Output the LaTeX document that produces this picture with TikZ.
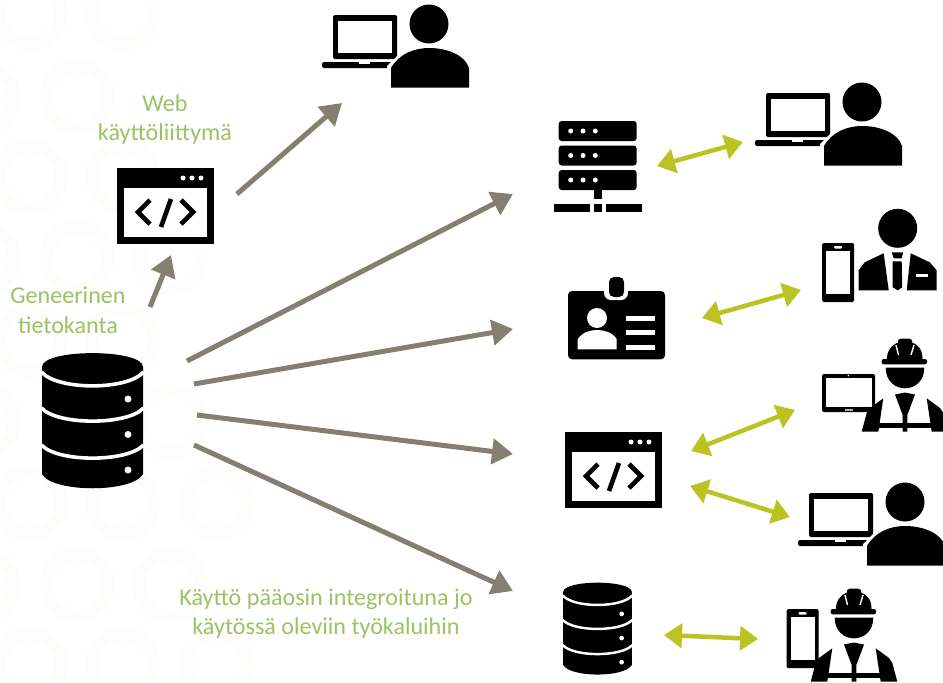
\documentclass[tikz,border=0pt]{standalone}
\usepackage{fontspec}
\setmainfont{Carlito}
\usetikzlibrary{arrows.meta}
\definecolor{lbl}{HTML}{9BC364}
\definecolor{gr}{HTML}{857F72}
\definecolor{ol}{HTML}{BBC323}
\definecolor{ringc}{HTML}{FCFCFA}
\definecolor{ringd}{HTML}{FDFDFC}
\tikzset{
  ringa/.style={draw=ringc,line width=12.5pt},
  ringb/.style={draw=ringd,line width=12.5pt},
  label text/.style={text=lbl,font=\fontsize{24.1}{29}\selectfont,align=center,inner sep=0pt,anchor=base},
  flow/.style={draw=gr,line width=5pt,-{Triangle[length=21pt,width=25pt]},shorten <=0pt},
  link/.style={draw=ol,line width=4.5pt,{Triangle[length=18pt,width=24pt]}-{Triangle[length=18pt,width=24pt]}},
  pics/laptopuser/.style={code={
    \fill[rounded corners=1.5pt] (-96,-9) rectangle (-32,35);
    \fill[white] (-91,-3) rectangle (-37,29);
    \fill[rounded corners=1.5pt] (-107,38) rectangle (-30,44);
    \fill[white] (-70,38) rectangle (-59,40);
    \fill (0,0) circle (19.5);
    \fill[white] (-42,64) -- (-42,42) -- (-30,30) -- (-28,64) -- cycle;
    \fill (-38,63.5) -- (-38,44) .. controls (-30,30) and (-15,24) .. (0,24) .. controls (18,24) and (36,31) .. (40,44) -- (40,63.5) -- cycle;
  }},
  pics/codewin/.style={code={
    \fill (-48.5,-38) rectangle (48.5,38);
    \fill[white] (-41.5,-18) rectangle (41.5,31);
    \foreach \dx in {17.5,26.5,35.5} \fill[white] (\dx,-28) circle (2.5);
    \draw[line width=4.6pt] (-15.5,-6) -- (-27.5,6) -- (-15.5,18);
    \draw[line width=4.6pt] (5.5,-7) -- (-4.5,21);
    \draw[line width=4.6pt] (15.5,-6) -- (27.5,6) -- (15.5,18);
  }},
  pics/database/.style={code={
    \fill (-50.5,-53.5) .. controls (-50.5,-72) and (50.5,-72) .. (50.5,-53.5)
      -- (50.5,53.5) .. controls (40,72.5) and (-40,72.5) .. (-50.5,53.5) -- cycle;
    \draw[white,line width=#1*3.6pt] (-51,-48.5) .. controls (-35,-30) and (35,-30) .. (51,-48.5);
    \draw[white,line width=#1*3.6pt] (-51,-12.5) .. controls (-35,5) and (35,5) .. (51,-12.5);
    \draw[white,line width=#1*3.6pt] (-51,24.5) .. controls (-35,42) and (35,42) .. (51,24.5);
    \fill[white] (35.5,-21.5) circle (3.5) (35.5,14) circle (3.5) (35.5,49.5) circle (3.5);
  }},
  pics/serverrack/.style={code={
    \foreach \yy in {121,145.5,170} {
      \fill[rounded corners=3pt] (558.7,\yy) rectangle (636.7,\yy+20);
      \foreach \xx in {570.7,583,595.3} \fill[white] (\xx,\yy+10) circle (2.5);
    }
    \fill (594,189) rectangle (602,199);
    \fill (554,204) rectangle (590,212);
    \fill (594,204) rectangle (602,212);
    \fill (606,204) rectangle (642,212);
  }},
  pics/idbadge/.style={code={
    \fill[rounded corners=4pt] (568,291) rectangle (665,359.3);
    \fill[white,rounded corners=7pt] (604,285) rectangle (628,300);
    \fill[rounded corners=5pt] (609,277) rectangle (624,297);
    \fill[white] (597,318) circle (10);
    \fill[white] (577.7,349.3) -- (577.7,339) .. controls (583,332) and (590,330) .. (597,330) .. controls (604,330) and (612,332) .. (616.7,339) -- (616.7,349.3) -- cycle;
    \foreach \yy in {315.7,330,345} \fill[white] (626,\yy) rectangle (655,\yy+5);
  }},
  pics/phone/.style={code={
    \fill[rounded corners=1.5pt] (0,0) rectangle (32,59);
    \fill[white] (4,8) rectangle (28,51);
    \fill[white,rounded corners=1pt] (12,3) rectangle (20,5.5);
  }},
  pics/suitman/.style={code={
    \fill (0,0) circle (19.5);
    \fill (-39,62) -- (-39,42) -- (-33,34) -- (-14,25) -- (-9,62) -- cycle;
    \fill (13,25) -- (32,34) -- (39,42) -- (39,62) -- (9,62) -- cycle;
    \fill (-6,24) -- (5.5,24) -- (4,30) -- (-4,30) -- cycle;
    \fill (-5,33) -- (4,33) -- (4.5,59) -- (0,62) -- (-5,59) -- cycle;
    \fill[white] (18,46) rectangle (30,49);
  }},
  pics/worker/.style={code={
    \fill[rounded corners=2pt] (66.7,24) rectangle (112,29.3);
    \fill (71.7,25) .. controls (72,16) and (76,10) .. (83,7.5) -- (83,5) -- (86,3.5) -- (94,3.5) -- (97,5) -- (97,7.5) .. controls (104,10) and (108,16) .. (107.5,25) -- cycle;
    \draw[white,line width=1.4pt] (81,10) -- (83.5,20) (99,10) -- (96,20);
    \fill (70.7,32.7) -- (109.3,32.7) .. controls (109.3,46) and (100,53.3) .. (90,53.3) .. controls (80,53.3) and (70.7,46) .. (70.7,32.7) -- cycle;
    \fill (46.7,96.7) -- (51.7,78) -- (55,73) -- (68.3,63.3) -- (63.3,96.7) -- cycle;
    \fill (111.7,63.3) -- (125,73) -- (128.3,78) -- (133.3,96.7) -- (116.7,96.7) -- cycle;
    \fill (63,88.3) rectangle (117,92.7);
    \fill (80,59.5) -- (90,57.5) -- (100,59.5) -- (92.3,80) -- (92.3,96.7) -- (87.7,96.7) -- (87.7,80) -- cycle;
  }},
}
\begin{document}
\begin{tikzpicture}[x=1pt,y=-1pt]
\useasboundingbox (0,0) rectangle (943,683);
\clip (0,0) rectangle (943,683);
\fill[white] (0,0) rectangle (943,683);
% background rings
\foreach \px/\py in {30/13,-17/97,77/97,30/177,123/177,-17/258,77/258,30/340,123/340,-17/422,77/422,30/503,123/503,-17/585,77/585,170/585,30/665,123/665}
  \draw[ringa] (\px,\py) circle (31);
\foreach \px/\py in {123/13,170/258,170/422,217/503,217/665}
  \draw[ringb] (\px,\py) circle (31);
% icons
\pic at (429,24) {laptopuser};
\pic at (862,102) {laptopuser};
\pic at (905,502) {laptopuser};
\pic at (165.5,206) {codewin};
\pic at (613.5,470) {codewin};
\pic at (92.5,420.5) {database=1};
\pic[scale=.68] at (597.5,628.5) {database=.68};
\pic {serverrack};
\pic {idbadge};
\pic at (822,243) {phone};
\pic at (897.7,228.3) {suitman};
% tablet
\fill[rounded corners=2pt] (822,374) rectangle (875,412);
\fill[white] (826,378) rectangle (872,407);
\fill[white] (848.5,375.5) circle (.8);
\fill[gray!60] (845,409) rectangle (853,411);
\pic at (815,335) {worker};
\pic at (786.5,609) {phone};
\pic at (764,585) {worker};
% labels
\node[label text] (web) at (165,111) {Web};
\node[label text] (ui) at (165,140) {käyttöliittymä};
\node[label text] (gen) at (68,303.5) {Geneerinen};
\node[label text] (tk) at (68,333) {tietokanta};
\node[label text] (use1) at (326,605.5) {Käyttö pääosin integroituna jo};
\node[label text] (use2) at (326,634) {käytössä oleviin työkaluihin};
% connector ends
\coordinate (dbtop) at (150,307);
\coordinate (winbottom) at (171,255);
\coordinate (winright) at (237,194);
\coordinate (lapuser) at (342,103);
\coordinate (d1) at (187,361);
\coordinate (s1) at (513,194);
\coordinate (d2) at (194,384);
\coordinate (s2) at (513,329);
\coordinate (d3) at (197,415);
\coordinate (s3) at (513,454);
\coordinate (d4) at (194,445);
\coordinate (s4) at (513,591);
\coordinate (a1) at (657,166);
\coordinate (a2) at (743,142);
\coordinate (b1) at (702,318);
\coordinate (b2) at (801,290);
\coordinate (c1) at (691,451);
\coordinate (c2) at (795,410);
\coordinate (e1) at (690,486);
\coordinate (e2) at (790,517);
\coordinate (f1) at (664,635);
\coordinate (f2) at (758,639);
% connectors
\draw[flow] (dbtop) -- (winbottom);
\draw[flow] (winright) -- (lapuser);
\draw[flow] (d1) -- (s1);
\draw[flow] (d2) -- (s2);
\draw[flow] (d3) -- (s3);
\draw[flow] (d4) -- (s4);
\draw[link] (a1) -- (a2);
\draw[link] (b1) -- (b2);
\draw[link] (c1) -- (c2);
\draw[link] (e1) -- (e2);
\draw[link] (f1) -- (f2);
\end{tikzpicture}
\end{document}
